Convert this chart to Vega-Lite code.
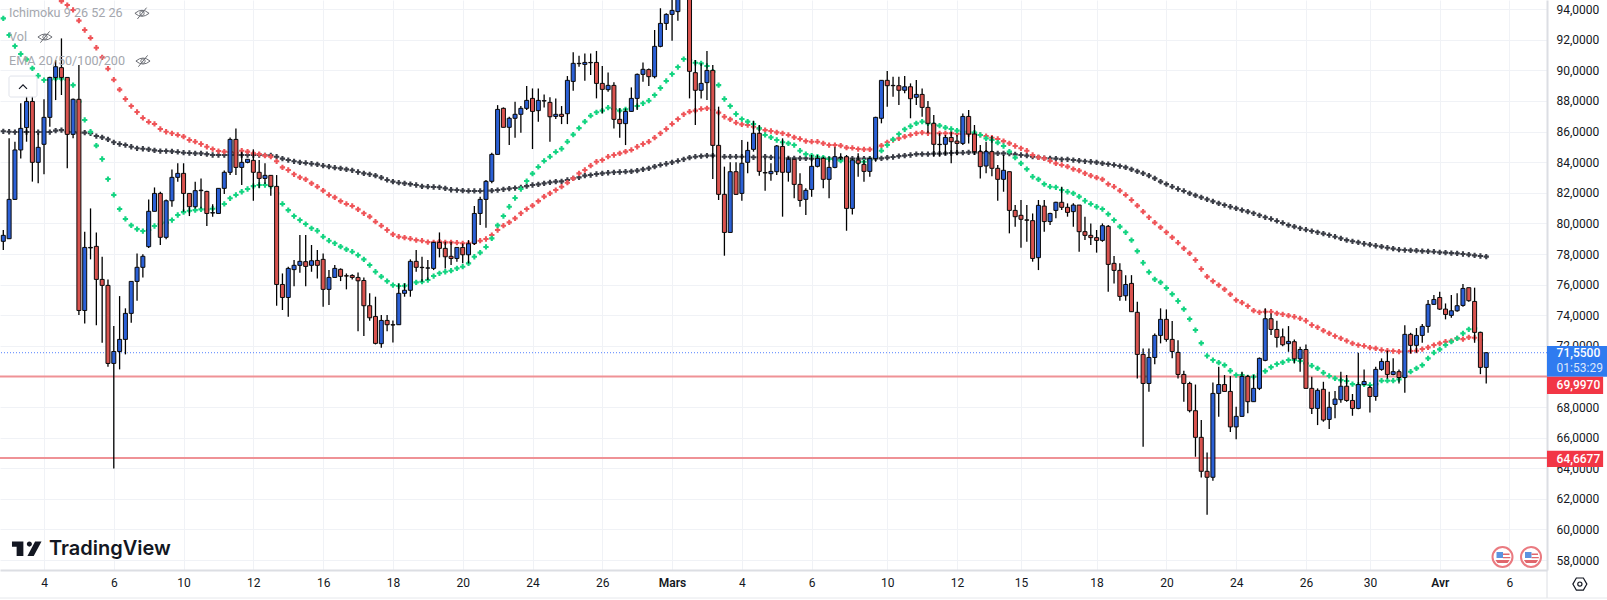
{
"$schema":"https://vega.github.io/schema/vega-lite/v6.json",
"width":1547,"height":570,
"autosize":{"type":"none"},
"padding":{"left":0,"top":0,"right":60,"bottom":30},
"background":"#ffffff",
"datasets":{
"candles":[
{"i":0,"open":78.83,"high":79.57,"low":78.26,"close":79.22,"ema20":93.4,"ema200":86.02},
{"i":1,"open":79.0,"high":85.56,"low":79.0,"close":81.57,"ema20":92.31,"ema200":85.99},
{"i":2,"open":81.57,"high":85.34,"low":81.53,"close":84.8,"ema20":91.59,"ema200":85.97},
{"i":3,"open":84.8,"high":87.85,"low":84.25,"close":86.21,"ema20":91.07,"ema200":85.97},
{"i":4,"open":86.26,"high":88.28,"low":85.34,"close":87.97,"ema20":90.72,"ema200":85.97},
{"i":5,"open":87.97,"high":88.28,"low":82.73,"close":83.99,"ema20":90.13,"ema200":85.97},
{"i":6,"open":83.99,"high":85.89,"low":82.62,"close":84.97,"ema20":89.65,"ema200":85.97},
{"i":7,"open":85.17,"high":88.11,"low":83.21,"close":86.93,"ema20":89.37,"ema200":85.97},
{"i":8,"open":86.93,"high":89.59,"low":86.32,"close":89.54,"ema20":89.37,"ema200":85.97},
{"i":9,"open":89.54,"high":90.68,"low":88.06,"close":90.24,"ema20":89.46,"ema200":86.06},
{"i":10,"open":90.18,"high":92.09,"low":88.39,"close":89.54,"ema20":89.46,"ema50":94.53,"ema200":86.1},
{"i":11,"open":89.54,"high":89.54,"low":83.6,"close":85.82,"ema20":89.37,"ema50":94.27,"ema200":85.99},
{"i":12,"open":85.82,"high":88.17,"low":85.56,"close":88.11,"ema20":89.04,"ema50":93.95,"ema200":85.97},
{"i":13,"open":88.11,"high":90.35,"low":74.01,"close":74.31,"ema20":87.96,"ema50":93.25,"ema200":85.93},
{"i":14,"open":74.31,"high":79.46,"low":73.46,"close":78.43,"ema20":86.76,"ema50":92.64,"ema200":85.93},
{"i":15,"open":78.43,"high":80.98,"low":77.65,"close":78.4,"ema20":85.99,"ema50":92.12,"ema200":85.89},
{"i":16,"open":78.5,"high":79.41,"low":73.35,"close":76.34,"ema20":85.08,"ema50":91.48,"ema200":85.71},
{"i":17,"open":76.34,"high":77.82,"low":72.2,"close":75.95,"ema20":84.21,"ema50":90.85,"ema200":85.62},
{"i":18,"open":75.95,"high":76.34,"low":70.63,"close":70.85,"ema20":82.9,"ema50":90.11,"ema200":85.49},
{"i":19,"open":70.85,"high":73.29,"low":63.99,"close":71.63,"ema20":81.86,"ema50":89.39,"ema200":85.3},
{"i":20,"open":71.63,"high":75.25,"low":70.46,"close":72.42,"ema20":80.94,"ema50":88.74,"ema200":85.19},
{"i":21,"open":72.42,"high":74.45,"low":71.44,"close":74.12,"ema20":80.29,"ema50":88.13,"ema200":85.12},
{"i":22,"open":74.12,"high":76.21,"low":73.51,"close":76.21,"ema20":79.87,"ema50":87.67,"ema200":85.01},
{"i":23,"open":76.21,"high":78.04,"low":74.95,"close":77.13,"ema20":79.63,"ema50":87.28,"ema200":84.91},
{"i":24,"open":77.13,"high":77.99,"low":76.47,"close":77.85,"ema20":79.5,"ema50":86.89,"ema200":84.88},
{"i":25,"open":78.48,"high":81.57,"low":78.39,"close":80.79,"ema20":79.57,"ema50":86.63,"ema200":84.84},
{"i":26,"open":80.79,"high":82.35,"low":80.79,"close":81.96,"ema20":79.83,"ema50":86.5,"ema200":84.77},
{"i":27,"open":81.96,"high":82.07,"low":78.59,"close":79.09,"ema20":79.96,"ema50":86.17,"ema200":84.73},
{"i":28,"open":79.09,"high":81.57,"low":78.96,"close":81.48,"ema20":80.05,"ema50":85.99,"ema200":84.73},
{"i":29,"open":81.48,"high":83.53,"low":81.09,"close":83.01,"ema20":80.22,"ema50":85.89,"ema200":84.71},
{"i":30,"open":83.01,"high":83.93,"low":82.73,"close":83.27,"ema20":80.55,"ema50":85.78,"ema200":84.67},
{"i":31,"open":83.27,"high":83.93,"low":80.77,"close":81.96,"ema20":80.74,"ema50":85.67,"ema200":84.62},
{"i":32,"open":81.96,"high":81.96,"low":80.48,"close":81.09,"ema20":80.83,"ema50":85.45,"ema200":84.6},
{"i":33,"open":81.09,"high":82.73,"low":80.98,"close":82.14,"ema20":80.87,"ema50":85.34,"ema200":84.58},
{"i":34,"open":82.14,"high":82.94,"low":80.98,"close":82.17,"ema20":80.92,"ema50":85.19,"ema200":84.58},
{"i":35,"open":82.09,"high":82.14,"low":79.83,"close":80.65,"ema20":80.92,"ema50":85.01,"ema200":84.53},
{"i":36,"open":80.68,"high":81.26,"low":80.44,"close":80.7,"ema20":80.96,"ema50":84.86,"ema200":84.47},
{"i":37,"open":80.65,"high":82.29,"low":80.65,"close":82.29,"ema20":81.05,"ema50":84.73,"ema200":84.47},
{"i":38,"open":82.29,"high":83.45,"low":81.92,"close":83.34,"ema20":81.27,"ema50":84.69,"ema200":84.47},
{"i":39,"open":83.34,"high":85.62,"low":83.16,"close":85.49,"ema20":81.64,"ema50":84.67,"ema200":84.47},
{"i":40,"open":85.49,"high":86.21,"low":83.16,"close":83.66,"ema20":81.86,"ema50":84.62,"ema200":84.47},
{"i":41,"open":83.66,"high":84.69,"low":82.51,"close":83.99,"ema20":82.07,"ema50":84.75,"ema200":84.47},
{"i":42,"open":83.99,"high":84.19,"low":83.93,"close":84.19,"ema20":82.25,"ema50":84.69,"ema200":84.47},
{"i":43,"open":84.12,"high":84.84,"low":81.48,"close":83.34,"ema20":82.44,"ema50":84.58,"ema200":84.47},
{"i":44,"open":83.34,"high":84.14,"low":82.29,"close":82.94,"ema20":82.51,"ema50":84.53,"ema200":84.47},
{"i":45,"open":82.94,"high":83.93,"low":82.57,"close":83.14,"ema20":82.51,"ema50":84.43,"ema200":84.45},
{"i":46,"open":83.14,"high":83.14,"low":81.81,"close":82.42,"ema20":82.44,"ema50":84.36,"ema200":84.45},
{"i":47,"open":82.42,"high":83.16,"low":74.62,"close":76.01,"ema20":81.96,"ema50":84.06,"ema200":84.36},
{"i":48,"open":76.01,"high":76.73,"low":74.34,"close":75.16,"ema20":81.27,"ema50":83.66,"ema200":84.23},
{"i":49,"open":75.16,"high":77.17,"low":73.9,"close":77.06,"ema20":80.87,"ema50":83.49,"ema200":84.14},
{"i":50,"open":76.98,"high":77.61,"low":75.9,"close":77.26,"ema20":80.48,"ema50":83.21,"ema200":84.06},
{"i":51,"open":77.26,"high":79.24,"low":76.78,"close":77.52,"ema20":80.22,"ema50":83.01,"ema200":83.99},
{"i":52,"open":77.5,"high":79.24,"low":75.9,"close":77.19,"ema20":79.96,"ema50":82.88,"ema200":83.95},
{"i":53,"open":77.26,"high":78.59,"low":76.84,"close":77.56,"ema20":79.68,"ema50":82.62,"ema200":83.9},
{"i":54,"open":77.58,"high":78.26,"low":76.4,"close":77.26,"ema20":79.52,"ema50":82.4,"ema200":83.86},
{"i":55,"open":77.65,"high":78.04,"low":74.55,"close":75.69,"ema20":79.13,"ema50":82.14,"ema200":83.77},
{"i":56,"open":75.69,"high":76.95,"low":74.66,"close":76.47,"ema20":78.87,"ema50":81.86,"ema200":83.71},
{"i":57,"open":76.47,"high":77.28,"low":76.47,"close":77.06,"ema20":78.7,"ema50":81.7,"ema200":83.64},
{"i":58,"open":77.0,"high":77.06,"low":76.23,"close":76.54,"ema20":78.48,"ema50":81.46,"ema200":83.6},
{"i":59,"open":76.58,"high":76.73,"low":75.69,"close":76.56,"ema20":78.3,"ema50":81.27,"ema200":83.53},
{"i":60,"open":76.6,"high":76.67,"low":76.34,"close":76.47,"ema20":78.15,"ema50":81.14,"ema200":83.47},
{"i":61,"open":76.47,"high":76.8,"low":72.96,"close":76.25,"ema20":77.93,"ema50":80.92,"ema200":83.36},
{"i":62,"open":76.27,"high":76.47,"low":72.64,"close":74.62,"ema20":77.65,"ema50":80.66,"ema200":83.27},
{"i":63,"open":74.62,"high":75.43,"low":73.64,"close":73.83,"ema20":77.28,"ema50":80.44,"ema200":83.21},
{"i":64,"open":73.92,"high":75.21,"low":72.09,"close":72.16,"ema20":76.84,"ema50":80.11,"ema200":83.12},
{"i":65,"open":72.14,"high":74.01,"low":71.87,"close":73.66,"ema20":76.52,"ema50":79.85,"ema200":82.99},
{"i":66,"open":73.66,"high":74.01,"low":72.96,"close":73.38,"ema20":76.23,"ema50":79.57,"ema200":82.84},
{"i":67,"open":73.38,"high":73.66,"low":72.22,"close":73.36,"ema20":75.97,"ema50":79.28,"ema200":82.73},
{"i":68,"open":73.38,"high":76.08,"low":73.38,"close":75.43,"ema20":75.91,"ema50":79.13,"ema200":82.66},
{"i":69,"open":75.43,"high":76.08,"low":75.21,"close":75.63,"ema20":75.93,"ema50":79.07,"ema200":82.62},
{"i":70,"open":75.63,"high":77.65,"low":75.21,"close":77.52,"ema20":75.97,"ema50":79.0,"ema200":82.57},
{"i":71,"open":77.52,"high":78.26,"low":76.84,"close":77.13,"ema20":76.15,"ema50":78.91,"ema200":82.51},
{"i":72,"open":77.13,"high":77.82,"low":76.19,"close":77.11,"ema20":76.19,"ema50":78.87,"ema200":82.42},
{"i":73,"open":77.08,"high":77.61,"low":76.3,"close":77.09,"ema20":76.3,"ema50":78.78,"ema200":82.4},
{"i":74,"open":77.06,"high":78.8,"low":76.95,"close":78.76,"ema20":76.56,"ema50":78.76,"ema200":82.38},
{"i":75,"open":78.76,"high":79.41,"low":77.78,"close":78.37,"ema20":76.74,"ema50":78.81,"ema200":82.36},
{"i":76,"open":78.37,"high":78.8,"low":77.06,"close":77.82,"ema20":76.84,"ema50":78.76,"ema200":82.29},
{"i":77,"open":77.85,"high":78.8,"low":77.28,"close":77.71,"ema20":76.91,"ema50":78.76,"ema200":82.2},
{"i":78,"open":77.71,"high":78.43,"low":77.5,"close":78.43,"ema20":77.06,"ema50":78.74,"ema200":82.18},
{"i":79,"open":78.43,"high":78.69,"low":77.39,"close":77.95,"ema20":77.17,"ema50":78.7,"ema200":82.14},
{"i":80,"open":77.95,"high":78.91,"low":77.39,"close":78.67,"ema20":77.39,"ema50":78.7,"ema200":82.12},
{"i":81,"open":78.69,"high":81.13,"low":78.59,"close":80.65,"ema20":77.82,"ema50":78.76,"ema200":82.12},
{"i":82,"open":80.65,"high":81.74,"low":79.89,"close":81.57,"ema20":78.09,"ema50":78.87,"ema200":82.12},
{"i":83,"open":81.57,"high":82.83,"low":79.72,"close":82.75,"ema20":78.46,"ema50":78.98,"ema200":82.14},
{"i":84,"open":82.75,"high":84.62,"low":82.62,"close":84.51,"ema20":79.02,"ema50":79.24,"ema200":82.14},
{"i":85,"open":84.51,"high":87.73,"low":84.51,"close":87.45,"ema20":79.87,"ema50":79.57,"ema200":82.18},
{"i":86,"open":87.52,"high":87.58,"low":86.28,"close":86.28,"ema20":80.48,"ema50":79.85,"ema200":82.23},
{"i":87,"open":86.28,"high":86.97,"low":85.12,"close":86.87,"ema20":81.09,"ema50":80.07,"ema200":82.27},
{"i":88,"open":86.87,"high":87.95,"low":85.6,"close":87.13,"ema20":81.66,"ema50":80.33,"ema200":82.31},
{"i":89,"open":87.13,"high":87.67,"low":85.93,"close":87.52,"ema20":82.25,"ema50":80.66,"ema200":82.36},
{"i":90,"open":87.52,"high":88.98,"low":87.41,"close":88.04,"ema20":82.77,"ema50":80.94,"ema200":82.44},
{"i":91,"open":88.17,"high":88.82,"low":84.86,"close":87.32,"ema20":83.25,"ema50":81.16,"ema200":82.51},
{"i":92,"open":87.37,"high":88.82,"low":86.65,"close":88.04,"ema20":83.69,"ema50":81.46,"ema200":82.55},
{"i":93,"open":88.0,"high":88.43,"low":87.58,"close":88.02,"ema20":84.08,"ema50":81.75,"ema200":82.62},
{"i":94,"open":87.91,"high":88.24,"low":85.34,"close":86.97,"ema20":84.36,"ema50":81.96,"ema200":82.68},
{"i":95,"open":86.99,"high":88.17,"low":86.82,"close":87.13,"ema20":84.67,"ema50":82.18,"ema200":82.73},
{"i":96,"open":87.13,"high":87.67,"low":86.49,"close":86.99,"ema20":84.88,"ema50":82.4,"ema200":82.75},
{"i":97,"open":87.17,"high":89.63,"low":86.49,"close":89.35,"ema20":85.34,"ema50":82.66,"ema200":82.84},
{"i":98,"open":89.28,"high":91.18,"low":88.67,"close":90.46,"ema20":85.8,"ema50":82.94,"ema200":82.94},
{"i":99,"open":90.44,"high":90.96,"low":90.24,"close":90.46,"ema20":86.23,"ema50":83.27,"ema200":83.01},
{"i":100,"open":90.39,"high":91.11,"low":89.33,"close":90.52,"ema20":86.65,"ema50":83.49,"ema200":83.12},
{"i":101,"open":90.52,"high":91.11,"low":89.7,"close":90.5,"ema20":87.04,"ema50":83.77,"ema200":83.16},
{"i":102,"open":90.52,"high":91.27,"low":88.17,"close":89.15,"ema20":87.26,"ema50":84.03,"ema200":83.23},
{"i":103,"open":89.15,"high":90.28,"low":87.19,"close":88.76,"ema20":87.37,"ema50":84.14,"ema200":83.27},
{"i":104,"open":88.74,"high":89.87,"low":88.61,"close":89.02,"ema20":87.56,"ema50":84.36,"ema200":83.31},
{"i":105,"open":89.02,"high":89.22,"low":86.21,"close":86.8,"ema20":87.48,"ema50":84.47,"ema200":83.34},
{"i":106,"open":86.8,"high":87.52,"low":85.6,"close":86.52,"ema20":87.37,"ema50":84.58,"ema200":83.36},
{"i":107,"open":86.52,"high":87.52,"low":85.12,"close":87.32,"ema20":87.45,"ema50":84.69,"ema200":83.38},
{"i":108,"open":87.32,"high":88.89,"low":87.3,"close":88.17,"ema20":87.52,"ema50":84.8,"ema200":83.4},
{"i":109,"open":88.17,"high":89.8,"low":87.41,"close":89.74,"ema20":87.67,"ema50":85.01,"ema200":83.45},
{"i":110,"open":89.74,"high":90.52,"low":89.26,"close":90.07,"ema20":87.85,"ema50":85.19,"ema200":83.53},
{"i":111,"open":90.05,"high":90.13,"low":88.98,"close":89.59,"ema20":88.02,"ema50":85.34,"ema200":83.6},
{"i":112,"open":89.59,"high":92.64,"low":89.48,"close":91.57,"ema20":88.39,"ema50":85.6,"ema200":83.71},
{"i":113,"open":91.57,"high":94.06,"low":91.51,"close":93.07,"ema20":88.85,"ema50":85.89,"ema200":83.82},
{"i":114,"open":93.07,"high":93.73,"low":92.64,"close":93.66,"ema20":89.31,"ema50":86.17,"ema200":83.9},
{"i":115,"open":93.66,"high":95.2,"low":91.94,"close":93.92,"ema20":89.76,"ema50":86.5,"ema200":83.99},
{"i":116,"open":93.84,"high":95.6,"low":93.25,"close":95.2,"ema20":90.22,"ema50":86.82,"ema200":84.08},
{"i":117,"open":95.2,"high":96.0,"low":95.0,"close":95.6,"ema20":90.74,"ema50":87.13,"ema200":84.19},
{"i":118,"open":95.3,"high":95.6,"low":88.17,"close":89.94,"ema20":90.68,"ema50":87.3,"ema200":84.3},
{"i":119,"open":89.85,"high":90.68,"low":86.43,"close":88.7,"ema20":90.5,"ema50":87.37,"ema200":84.36},
{"i":120,"open":88.7,"high":90.46,"low":88.17,"close":89.15,"ema20":90.46,"ema50":87.48,"ema200":84.4},
{"i":121,"open":89.2,"high":91.27,"low":88.06,"close":90.0,"ema20":90.29,"ema50":87.52,"ema200":84.43},
{"i":122,"open":90.0,"high":90.35,"low":82.9,"close":85.1,"ema20":89.92,"ema50":87.41,"ema200":84.43},
{"i":123,"open":85.1,"high":87.63,"low":81.53,"close":81.9,"ema20":89.04,"ema50":87.24,"ema200":84.36},
{"i":124,"open":81.9,"high":83.71,"low":77.89,"close":79.41,"ema20":88.13,"ema50":86.97,"ema200":84.36},
{"i":125,"open":79.41,"high":83.99,"low":79.41,"close":83.38,"ema20":87.67,"ema50":86.8,"ema200":84.36},
{"i":126,"open":83.38,"high":83.99,"low":81.86,"close":81.9,"ema20":87.15,"ema50":86.58,"ema200":84.36},
{"i":127,"open":81.96,"high":85.45,"low":81.48,"close":83.93,"ema20":86.82,"ema50":86.47,"ema200":84.36},
{"i":128,"open":83.99,"high":85.34,"low":83.27,"close":84.77,"ema20":86.65,"ema50":86.43,"ema200":84.36},
{"i":129,"open":84.84,"high":86.71,"low":84.69,"close":85.89,"ema20":86.5,"ema50":86.32,"ema200":84.32},
{"i":130,"open":85.89,"high":86.43,"low":83.12,"close":83.4,"ema20":86.21,"ema50":86.21,"ema200":84.32},
{"i":131,"open":83.32,"high":84.25,"low":82.14,"close":83.3,"ema20":85.78,"ema50":86.1,"ema200":84.36},
{"i":132,"open":83.25,"high":83.93,"low":82.79,"close":83.4,"ema20":85.62,"ema50":86.04,"ema200":84.32},
{"i":133,"open":83.38,"high":85.12,"low":83.16,"close":85.06,"ema20":85.45,"ema50":85.95,"ema200":84.3},
{"i":134,"open":85.03,"high":85.56,"low":80.44,"close":83.34,"ema20":85.3,"ema50":85.89,"ema200":84.25},
{"i":135,"open":83.34,"high":84.36,"low":82.73,"close":84.19,"ema20":85.23,"ema50":85.78,"ema200":84.25},
{"i":136,"open":84.19,"high":84.19,"low":81.64,"close":82.55,"ema20":85.12,"ema50":85.62,"ema200":84.25},
{"i":137,"open":82.55,"high":83.27,"low":81.09,"close":81.5,"ema20":84.75,"ema50":85.52,"ema200":84.25},
{"i":138,"open":81.57,"high":82.29,"low":80.55,"close":82.16,"ema20":84.53,"ema50":85.38,"ema200":84.25},
{"i":139,"open":82.22,"high":84.47,"low":81.74,"close":83.73,"ema20":84.43,"ema50":85.34,"ema200":84.23},
{"i":140,"open":83.73,"high":84.47,"low":83.66,"close":84.25,"ema20":84.36,"ema50":85.34,"ema200":84.23},
{"i":141,"open":84.25,"high":84.36,"low":82.29,"close":82.88,"ema20":84.3,"ema50":85.23,"ema200":84.23},
{"i":142,"open":82.88,"high":84.36,"low":81.64,"close":83.66,"ema20":84.21,"ema50":85.12,"ema200":84.23},
{"i":143,"open":83.66,"high":84.97,"low":83.6,"close":84.36,"ema20":84.14,"ema50":85.12,"ema200":84.23},
{"i":144,"open":84.32,"high":84.58,"low":84.14,"close":84.3,"ema20":84.1,"ema50":85.08,"ema200":84.23},
{"i":145,"open":84.36,"high":84.47,"low":79.52,"close":80.98,"ema20":84.06,"ema50":84.95,"ema200":84.23},
{"i":146,"open":80.98,"high":84.25,"low":80.59,"close":84.14,"ema20":84.03,"ema50":84.93,"ema200":84.23},
{"i":147,"open":84.14,"high":84.58,"low":83.05,"close":83.93,"ema20":84.01,"ema50":84.86,"ema200":84.23},
{"i":148,"open":83.86,"high":84.14,"low":82.73,"close":83.4,"ema20":84.03,"ema50":84.84,"ema200":84.23},
{"i":149,"open":83.4,"high":84.32,"low":83.05,"close":84.23,"ema20":84.14,"ema50":84.84,"ema200":84.23},
{"i":150,"open":84.23,"high":86.97,"low":84.03,"close":86.93,"ema20":84.36,"ema50":84.97,"ema200":84.25},
{"i":151,"open":86.87,"high":89.37,"low":86.54,"close":89.35,"ema20":84.75,"ema50":85.08,"ema200":84.25},
{"i":152,"open":89.35,"high":89.96,"low":87.63,"close":89.0,"ema20":85.12,"ema50":85.3,"ema200":84.3},
{"i":153,"open":89.02,"high":89.59,"low":88.28,"close":89.0,"ema20":85.49,"ema50":85.45,"ema200":84.34},
{"i":154,"open":89.0,"high":89.59,"low":87.73,"close":88.7,"ema20":85.84,"ema50":85.56,"ema200":84.4},
{"i":155,"open":88.7,"high":89.63,"low":88.5,"close":88.93,"ema20":86.15,"ema50":85.67,"ema200":84.43},
{"i":156,"open":88.93,"high":89.15,"low":86.87,"close":88.15,"ema20":86.35,"ema50":85.78,"ema200":84.47},
{"i":157,"open":88.24,"high":89.37,"low":87.73,"close":88.43,"ema20":86.54,"ema50":85.89,"ema200":84.53},
{"i":158,"open":88.43,"high":88.82,"low":86.97,"close":87.58,"ema20":86.65,"ema50":85.93,"ema200":84.53},
{"i":159,"open":87.58,"high":88.0,"low":85.89,"close":86.54,"ema20":86.54,"ema50":85.89,"ema200":84.53},
{"i":160,"open":86.54,"high":87.08,"low":84.36,"close":85.17,"ema20":86.43,"ema50":85.89,"ema200":84.56},
{"i":161,"open":85.17,"high":85.89,"low":84.36,"close":85.15,"ema20":86.39,"ema50":85.89,"ema200":84.56},
{"i":162,"open":85.17,"high":85.78,"low":84.47,"close":85.62,"ema20":86.26,"ema50":85.89,"ema200":84.58},
{"i":163,"open":85.62,"high":85.99,"low":83.93,"close":85.34,"ema20":86.17,"ema50":85.89,"ema200":84.6},
{"i":164,"open":85.38,"high":85.78,"low":84.47,"close":85.23,"ema20":86.06,"ema50":85.86,"ema200":84.62},
{"i":165,"open":85.23,"high":87.19,"low":85.12,"close":86.99,"ema20":85.99,"ema50":85.84,"ema200":84.62},
{"i":166,"open":86.99,"high":87.41,"low":85.23,"close":85.84,"ema20":85.95,"ema50":85.84,"ema200":84.64},
{"i":167,"open":85.84,"high":86.43,"low":84.47,"close":84.69,"ema20":85.93,"ema50":85.84,"ema200":84.64},
{"i":168,"open":84.69,"high":85.12,"low":82.94,"close":83.71,"ema20":85.78,"ema50":85.78,"ema200":84.62},
{"i":169,"open":83.75,"high":85.34,"low":83.27,"close":84.69,"ema20":85.56,"ema50":85.71,"ema200":84.62},
{"i":170,"open":84.69,"high":85.71,"low":83.09,"close":83.6,"ema20":85.45,"ema50":85.6,"ema200":84.58},
{"i":171,"open":83.6,"high":83.82,"low":81.48,"close":82.88,"ema20":85.28,"ema50":85.52,"ema200":84.58},
{"i":172,"open":82.88,"high":84.47,"low":82.07,"close":83.47,"ema20":85.06,"ema50":85.38,"ema200":84.58},
{"i":173,"open":83.38,"high":83.38,"low":79.35,"close":80.85,"ema20":84.69,"ema50":85.23,"ema200":84.56},
{"i":174,"open":80.85,"high":81.2,"low":79.78,"close":80.44,"ema20":84.3,"ema50":85.06,"ema200":84.51},
{"i":175,"open":80.53,"high":81.53,"low":78.41,"close":80.27,"ema20":83.92,"ema50":84.91,"ema200":84.47},
{"i":176,"open":80.23,"high":81.2,"low":78.8,"close":80.21,"ema20":83.55,"ema50":84.75,"ema200":84.43},
{"i":177,"open":80.18,"high":80.65,"low":77.5,"close":77.71,"ema20":83.05,"ema50":84.47,"ema200":84.36},
{"i":178,"open":77.76,"high":81.53,"low":76.95,"close":81.18,"ema20":82.88,"ema50":84.32,"ema200":84.32},
{"i":179,"open":81.13,"high":81.53,"low":79.46,"close":80.12,"ema20":82.57,"ema50":84.25,"ema200":84.27},
{"i":180,"open":80.12,"high":80.7,"low":79.89,"close":80.65,"ema20":82.4,"ema50":84.08,"ema200":84.25},
{"i":181,"open":80.85,"high":81.42,"low":80.33,"close":81.38,"ema20":82.36,"ema50":83.92,"ema200":84.23},
{"i":182,"open":81.38,"high":82.4,"low":80.87,"close":81.05,"ema20":82.18,"ema50":83.82,"ema200":84.19},
{"i":183,"open":81.05,"high":81.31,"low":80.44,"close":80.72,"ema20":82.07,"ema50":83.71,"ema200":84.19},
{"i":184,"open":80.77,"high":81.31,"low":79.78,"close":81.2,"ema20":81.96,"ema50":83.55,"ema200":84.14},
{"i":185,"open":81.2,"high":81.2,"low":78.15,"close":79.46,"ema20":81.75,"ema50":83.45,"ema200":84.1},
{"i":186,"open":79.46,"high":80.44,"low":78.91,"close":79.22,"ema20":81.48,"ema50":83.27,"ema200":84.06},
{"i":187,"open":79.22,"high":80.0,"low":78.59,"close":79.07,"ema20":81.27,"ema50":83.12,"ema200":84.03},
{"i":188,"open":79.07,"high":79.57,"low":78.09,"close":78.89,"ema20":81.09,"ema50":82.99,"ema200":83.99},
{"i":189,"open":78.89,"high":80.0,"low":78.8,"close":79.85,"ema20":80.94,"ema50":82.88,"ema200":83.92},
{"i":190,"open":79.81,"high":79.89,"low":75.54,"close":77.32,"ema20":80.61,"ema50":82.57,"ema200":83.88},
{"i":191,"open":77.39,"high":77.87,"low":76.08,"close":76.93,"ema20":80.22,"ema50":82.4,"ema200":83.82},
{"i":192,"open":76.93,"high":77.39,"low":74.95,"close":75.23,"ema20":79.79,"ema50":82.14,"ema200":83.75},
{"i":193,"open":75.27,"high":76.62,"low":74.95,"close":76.01,"ema20":79.42,"ema50":81.86,"ema200":83.66},
{"i":194,"open":76.08,"high":76.62,"low":74.23,"close":74.23,"ema20":78.91,"ema50":81.53,"ema200":83.53},
{"i":195,"open":74.19,"high":74.88,"low":69.86,"close":71.44,"ema20":78.19,"ema50":81.16,"ema200":83.4},
{"i":196,"open":71.44,"high":71.82,"low":65.41,"close":69.54,"ema20":77.43,"ema50":80.77,"ema200":83.27},
{"i":197,"open":69.54,"high":71.82,"low":69.0,"close":71.24,"ema20":76.82,"ema50":80.4,"ema200":83.12},
{"i":198,"open":71.24,"high":72.81,"low":70.8,"close":72.68,"ema20":76.34,"ema50":80.05,"ema200":82.94},
{"i":199,"open":72.68,"high":74.45,"low":72.16,"close":73.73,"ema20":76.15,"ema50":79.74,"ema200":82.73},
{"i":200,"open":73.73,"high":74.38,"low":72.27,"close":72.42,"ema20":75.78,"ema50":79.42,"ema200":82.57},
{"i":201,"open":72.42,"high":73.62,"low":71.18,"close":71.63,"ema20":75.38,"ema50":79.09,"ema200":82.4},
{"i":202,"open":71.57,"high":72.37,"low":69.86,"close":70.13,"ema20":74.93,"ema50":78.74,"ema200":82.25},
{"i":203,"open":70.13,"high":70.37,"low":68.35,"close":69.54,"ema20":74.4,"ema50":78.37,"ema200":82.12},
{"i":204,"open":69.54,"high":69.65,"low":67.65,"close":67.76,"ema20":73.75,"ema50":78.04,"ema200":81.96},
{"i":205,"open":67.76,"high":69.47,"low":64.75,"close":66.02,"ema20":73.03,"ema50":77.61,"ema200":81.83},
{"i":206,"open":66.02,"high":67.15,"low":63.39,"close":63.8,"ema20":72.18,"ema50":77.02,"ema200":81.7},
{"i":207,"open":63.8,"high":65.03,"low":60.96,"close":63.41,"ema20":71.35,"ema50":76.52,"ema200":81.57},
{"i":208,"open":63.41,"high":69.61,"low":63.18,"close":68.89,"ema20":71.07,"ema50":76.23,"ema200":81.44},
{"i":209,"open":68.89,"high":70.63,"low":67.37,"close":69.47,"ema20":70.9,"ema50":75.97,"ema200":81.31},
{"i":210,"open":69.47,"high":70.09,"low":69.0,"close":69.02,"ema20":70.74,"ema50":75.69,"ema200":81.2},
{"i":211,"open":69.02,"high":70.02,"low":66.37,"close":66.7,"ema20":70.37,"ema50":75.36,"ema200":81.09},
{"i":212,"open":66.7,"high":68.02,"low":65.9,"close":67.39,"ema20":70.09,"ema50":74.99,"ema200":80.98},
{"i":213,"open":67.39,"high":70.31,"low":67.37,"close":70.0,"ema20":70.09,"ema50":74.82,"ema200":80.87},
{"i":214,"open":70.0,"high":70.09,"low":67.59,"close":68.35,"ema20":69.94,"ema50":74.6,"ema200":80.77},
{"i":215,"open":68.35,"high":70.09,"low":68.35,"close":69.22,"ema20":69.98,"ema50":74.3,"ema200":80.66},
{"i":216,"open":69.22,"high":71.24,"low":69.11,"close":71.18,"ema20":70.16,"ema50":74.19,"ema200":80.53},
{"i":217,"open":71.05,"high":74.45,"low":71.0,"close":73.77,"ema20":70.35,"ema50":74.23,"ema200":80.4},
{"i":218,"open":73.77,"high":74.12,"low":72.7,"close":73.07,"ema20":70.61,"ema50":74.23,"ema200":80.29},
{"i":219,"open":73.07,"high":73.64,"low":71.89,"close":72.55,"ema20":70.81,"ema50":74.12,"ema200":80.16},
{"i":220,"open":72.59,"high":73.14,"low":71.98,"close":72.07,"ema20":70.92,"ema50":74.06,"ema200":80.03},
{"i":221,"open":72.14,"high":73.29,"low":71.61,"close":72.29,"ema20":71.07,"ema50":73.97,"ema200":79.89},
{"i":222,"open":72.27,"high":72.42,"low":70.85,"close":71.15,"ema20":71.07,"ema50":73.9,"ema200":79.79},
{"i":223,"open":71.15,"high":71.94,"low":70.31,"close":71.76,"ema20":71.01,"ema50":73.79,"ema200":79.68},
{"i":224,"open":71.76,"high":72.09,"low":69.22,"close":69.22,"ema20":70.85,"ema50":73.64,"ema200":79.59},
{"i":225,"open":69.22,"high":69.98,"low":67.55,"close":67.91,"ema20":70.7,"ema50":73.36,"ema200":79.5},
{"i":226,"open":67.91,"high":69.22,"low":66.82,"close":69.09,"ema20":70.53,"ema50":73.21,"ema200":79.42},
{"i":227,"open":69.16,"high":69.65,"low":67.04,"close":67.15,"ema20":70.24,"ema50":72.99,"ema200":79.33},
{"i":228,"open":67.19,"high":69.0,"low":66.56,"close":67.98,"ema20":70.03,"ema50":72.81,"ema200":79.24},
{"i":229,"open":68.17,"high":69.04,"low":67.26,"close":68.52,"ema20":69.87,"ema50":72.64,"ema200":79.13},
{"i":230,"open":68.48,"high":70.31,"low":68.28,"close":69.36,"ema20":69.76,"ema50":72.49,"ema200":79.02},
{"i":231,"open":69.36,"high":70.09,"low":68.35,"close":68.43,"ema20":69.7,"ema50":72.33,"ema200":78.91},
{"i":232,"open":68.43,"high":68.85,"low":67.43,"close":67.91,"ema20":69.5,"ema50":72.16,"ema200":78.83},
{"i":233,"open":67.91,"high":71.55,"low":67.85,"close":69.47,"ema20":69.44,"ema50":72.05,"ema200":78.76},
{"i":234,"open":69.47,"high":70.46,"low":69.43,"close":69.67,"ema20":69.48,"ema50":71.99,"ema200":78.67},
{"i":235,"open":69.28,"high":69.43,"low":67.65,"close":68.69,"ema20":69.44,"ema50":71.88,"ema200":78.61},
{"i":236,"open":68.69,"high":70.63,"low":68.41,"close":70.46,"ema20":69.5,"ema50":71.83,"ema200":78.54},
{"i":237,"open":70.46,"high":71.18,"low":70.37,"close":70.98,"ema20":69.72,"ema50":71.73,"ema200":78.48},
{"i":238,"open":70.98,"high":71.68,"low":69.86,"close":70.13,"ema20":69.72,"ema50":71.68,"ema200":78.41},
{"i":239,"open":70.13,"high":71.18,"low":70.07,"close":70.31,"ema20":69.72,"ema50":71.66,"ema200":78.35},
{"i":240,"open":70.31,"high":70.46,"low":69.54,"close":69.93,"ema20":69.81,"ema50":71.62,"ema200":78.28},
{"i":241,"open":69.93,"high":73.35,"low":68.93,"close":72.75,"ema20":70.03,"ema50":71.62,"ema200":78.26},
{"i":242,"open":72.75,"high":72.85,"low":71.5,"close":72.03,"ema20":70.31,"ema50":71.66,"ema200":78.24},
{"i":243,"open":72.03,"high":73.16,"low":71.55,"close":72.68,"ema20":70.53,"ema50":71.68,"ema200":78.22},
{"i":244,"open":72.68,"high":73.42,"low":72.2,"close":73.27,"ema20":70.74,"ema50":71.79,"ema200":78.19},
{"i":245,"open":73.27,"high":74.99,"low":72.85,"close":74.71,"ema20":71.18,"ema50":71.9,"ema200":78.17},
{"i":246,"open":74.71,"high":75.32,"low":74.66,"close":75.03,"ema20":71.55,"ema50":72.05,"ema200":78.15},
{"i":247,"open":75.16,"high":75.54,"low":74.34,"close":74.4,"ema20":71.77,"ema50":72.16,"ema200":78.11},
{"i":248,"open":74.4,"high":74.77,"low":73.73,"close":74.05,"ema20":72.05,"ema50":72.27,"ema200":78.09},
{"i":249,"open":73.99,"high":75.32,"low":73.83,"close":74.29,"ema20":72.27,"ema50":72.33,"ema200":78.06},
{"i":250,"open":74.29,"high":75.43,"low":74.23,"close":74.62,"ema20":72.49,"ema50":72.49,"ema200":78.04},
{"i":251,"open":74.64,"high":76.04,"low":74.55,"close":75.75,"ema20":72.81,"ema50":72.44,"ema200":78.0},
{"i":252,"open":75.8,"high":75.8,"low":74.88,"close":74.95,"ema20":73.08,"ema50":72.55,"ema200":77.96},
{"i":253,"open":74.9,"high":75.8,"low":72.2,"close":72.88,"ema20":73.14,"ema50":72.53,"ema200":77.91},
{"i":254,"open":72.88,"high":72.92,"low":70.15,"close":70.59,"ema20":72.75,"ema50":72.38,"ema200":77.87},
{"i":255,"open":70.59,"high":71.57,"low":69.54,"close":71.55,"ema200":77.83}
],
"levels":[{"level":69.997},{"level":64.6677}],
"last":[{"price":71.55}],
"legendText":[{"i":0.98,"p":93.73,"label":"Ichimoku 9 26 52 26"},{"i":0.98,"p":92.18,"label":"Vol"},{"i":0.98,"p":90.61,"label":"EMA 20/50/100/200"}],
"legendEyes":[{"i":23.85,"p":93.73},{"i":7.17,"p":92.18},{"i":24.02,"p":90.61}],
"button":[{"i":0.98,"i2":5.8,"p":89.63,"p2":88.26}],
"buttonIcon":[{"i":3.39,"p":88.92}],
"logo":[{"i":4.02,"p":58.74}],
"brand":[{"i":7.86,"p":58.74,"label":"TradingView"}],
"flags":[{"i":257.8,"p":58.2},{"i":262.7,"p":58.2}],
"blueBox":[{"i":265.45,"i2":276.5,"p":71.99,"p2":69.98}],
"redBoxes":[{"i":265.45,"i2":275.1,"p":69.98,"p2":68.85},{"i":265.45,"i2":275.1,"p":65.14,"p2":64.08}],
"priceText":[{"i":267.1,"p":71.55,"label":"71,5500"},{"i":267.1,"p":69.42,"label":"69,9970"},{"i":267.1,"p":64.61,"label":"64,6677"}],
"countdown":[{"i":267.1,"p":70.55,"label":"01:53:29"}],
"settings":[{"i":271.1,"p":56.43}],
"frameV":[{"i":265.45,"p":57.35,"p2":55.52}],
"frameH":[{"i":-0.567,"i2":276.5,"p":55.52}]
},
"data":{"name":"candles"},
"encoding":{
"x":{"field":"i","type":"quantitative","title":null,
"scale":{"domain":[-0.567,265.45],"nice":false,"zero":false,"padding":0},
"axis":{
"values":[7,19,31,43,55,67,79,91,103,115,127,139,152,164,175,188,200,212,224,235,247,259],
"labelExpr":"{'7':'4','19':'6','31':'10','43':'12','55':'16','67':'18','79':'20','91':'24','103':'26','115':'Mars','127':'4','139':'6','152':'10','164':'12','175':'15','188':'18','200':'20','212':'24','224':'26','235':'30','247':'Avr','259':'6'}[datum.value]",
"labelFontWeight":{"condition":{"test":"datum.value==115||datum.value==247","value":600},"value":400},
"grid":true,"gridColor":"#f0f2f6","gridWidth":1,
"domain":true,"domainColor":"#dcdee3","domainWidth":2,
"ticks":false,"labelPadding":7,"labelFont":"Roboto","labelFontSize":12,"labelColor":"#131722","labelOverlap":false,"labelFlush":false}}
},
"layer":[
{"data":{"name":"levels"},
"mark":{"type":"rule","color":"#ef9296","strokeWidth":2},
"encoding":{"x":null,"y":{"field":"level","type":"quantitative",
"scale":{"domain":[57.35,94.6],"nice":false,"zero":false,"padding":0},
"axis":{"orient":"right","title":null,"tickCount":25,"values":[58,60,62,64,66,68,70,72,74,76,78,80,82,84,86,88,90,92,94],
"labelExpr":"datum.value==70?'':replace(format(datum.value,'.4f'),'.',',')",
"grid":true,"gridColor":"#f0f2f6","gridWidth":1,
"domain":true,"domainColor":"#dcdee3","domainWidth":2,
"ticks":false,"labelPadding":9,"labelFont":"Roboto","labelFontSize":12,"labelColor":"#131722","labelOverlap":false,"labelAlign":"left"}}}},
{"data":{"name":"last"},
"mark":{"type":"rule","color":"#2962ff","strokeWidth":1,"strokeDash":[1,2],"opacity":0.8},
"encoding":{"x":null,"y":{"field":"price","type":"quantitative"}}},
{"mark":{"type":"point","shape":"cross","filled":true,"size":28,"opacity":1,"clip":true,"color":"#3a3d46"},
"encoding":{"y":{"field":"ema200","type":"quantitative"}}},
{"mark":{"type":"point","shape":"cross","filled":true,"size":28,"opacity":1,"clip":true,"color":"#ef5458"},
"encoding":{"y":{"field":"ema50","type":"quantitative"}}},
{"mark":{"type":"point","shape":"cross","filled":true,"size":28,"opacity":1,"clip":true,"color":"#13d481"},
"encoding":{"y":{"field":"ema20","type":"quantitative"}}},
{"mark":{"type":"rule","color":"#000000","strokeWidth":1.3,"clip":true},
"encoding":{"y":{"field":"high","type":"quantitative"},"y2":{"field":"low"}}},
{"mark":{"type":"bar","orient":"vertical","size":4,"stroke":"#0a0a0a","strokeWidth":1,"clip":true},
"encoding":{"y":{"field":"open","type":"quantitative"},"y2":{"field":"close"},
"color":{"condition":{"test":"datum.close>=datum.open","value":"#2b60d6"},"value":"#d9534f"}}},
{"data":{"name":"legendText"},"mark":{"type":"text","align":"left","baseline":"middle","font":"Roboto","fontSize":12.6,"color":"#a4a7ae"},
"encoding":{"y":{"field":"p","type":"quantitative"},"text":{"field":"label"}}},
{"data":{"name":"legendEyes"},
"mark":{"type":"point","shape":"M-1 0Q0 -.85 1 0Q0 .85 -1 0ZM-.3 0A.3 .3 0 1 0 .3 0A.3 .3 0 1 0 -.3 0ZM-.65 .8L.65 -.8","filled":false,"size":200,"stroke":"#3a3d46","strokeWidth":1,"opacity":0.75},
"encoding":{"y":{"field":"p","type":"quantitative"}}},
{"data":{"name":"button"},"mark":{"type":"rect","fill":"#ffffff","fillOpacity":0.5,"stroke":"#e0e3eb","strokeWidth":1,"cornerRadius":2},
"encoding":{"x2":{"field":"i2"},"y":{"field":"p","type":"quantitative"},"y2":{"field":"p2"}}},
{"data":{"name":"buttonIcon"},"mark":{"type":"point","shape":"M-1 .5L0 -.5L1 .5","filled":false,"size":64,"stroke":"#131722","strokeWidth":1.2,"opacity":1},
"encoding":{"y":{"field":"p","type":"quantitative"}}},
{"data":{"name":"logo"},"mark":{"type":"point","shape":"M-.98 -.49L-.22 -.49L-.22 .49L-.67 .49L-.67 -.13L-.98 -.13ZM.01 -.31A.17 .17 0 1 0 .35 -.31A.17 .17 0 1 0 .01 -.31ZM.56 -.49L.99 -.49L.47 .49L.05 .49Z","filled":true,"size":900,"color":"#131722","opacity":1},
"encoding":{"y":{"field":"p","type":"quantitative"}}},
{"data":{"name":"brand"},"mark":{"type":"text","align":"left","baseline":"middle","font":"Inter","fontSize":20,"fontWeight":600,"color":"#131722"},
"encoding":{"y":{"field":"p","type":"quantitative"},"text":{"field":"label"}}},
{"data":{"name":"flags"},"mark":{"type":"point","shape":"circle","filled":true,"size":400,"fill":"#ffffff","stroke":"#ea7a80","strokeWidth":2,"opacity":1},
"encoding":{"y":{"field":"p","type":"quantitative"}}},
{"data":{"name":"flags"},"mark":{"type":"point","shape":"M-.6 -.5L.05 -.5L.05 .1L-.6 .1Z","filled":true,"size":400,"color":"#5b93e0","opacity":1},
"encoding":{"y":{"field":"p","type":"quantitative"}}},
{"data":{"name":"flags"},"mark":{"type":"point","shape":"M.05 -.35L.7 -.35L.7 -.2L.05 -.2ZM.05 .0L.78 .0L.78 .12L.05 .12ZM-.72 .3L.72 .3L.5 .6L-.5 .6Z","filled":true,"size":400,"color":"#e0666c","opacity":1},
"encoding":{"y":{"field":"p","type":"quantitative"}}},
{"data":{"name":"blueBox"},"mark":{"type":"rect","fill":"#2f7bf0"},
"encoding":{"x2":{"field":"i2"},"y":{"field":"p","type":"quantitative"},"y2":{"field":"p2"}}},
{"data":{"name":"redBoxes"},"mark":{"type":"rect","fill":"#f23645"},
"encoding":{"x2":{"field":"i2"},"y":{"field":"p","type":"quantitative"},"y2":{"field":"p2"}}},
{"data":{"name":"priceText"},"mark":{"type":"text","align":"left","baseline":"middle","font":"Roboto","fontSize":12,"fontWeight":500,"color":"#ffffff"},
"encoding":{"y":{"field":"p","type":"quantitative"},"text":{"field":"label"}}},
{"data":{"name":"countdown"},"mark":{"type":"text","align":"left","baseline":"middle","font":"Roboto","fontSize":12,"color":"#dbe6fb"},
"encoding":{"y":{"field":"p","type":"quantitative"},"text":{"field":"label"}}},
{"data":{"name":"settings"},"mark":{"type":"point","shape":"M-1 0L-.5 -.87L.5 -.87L1 0L.5 .87L-.5 .87ZM-.3 0A.3 .3 0 1 0 .3 0A.3 .3 0 1 0 -.3 0Z","filled":false,"size":196,"stroke":"#131722","strokeWidth":1.2,"opacity":1},
"encoding":{"y":{"field":"p","type":"quantitative"}}},
{"data":{"name":"frameV"},"mark":{"type":"rule","color":"#dcdee3","strokeWidth":1},
"encoding":{"y":{"field":"p","type":"quantitative"},"y2":{"field":"p2"}}},
{"data":{"name":"frameH"},"mark":{"type":"rule","color":"#e6e8ec","strokeWidth":1},
"encoding":{"x2":{"field":"i2"},"y":{"field":"p","type":"quantitative"}}}
],
"config":{"view":{"stroke":null},"axisY":{"title":null,"labelOverlap":false},"axisX":{"title":null}}
}
